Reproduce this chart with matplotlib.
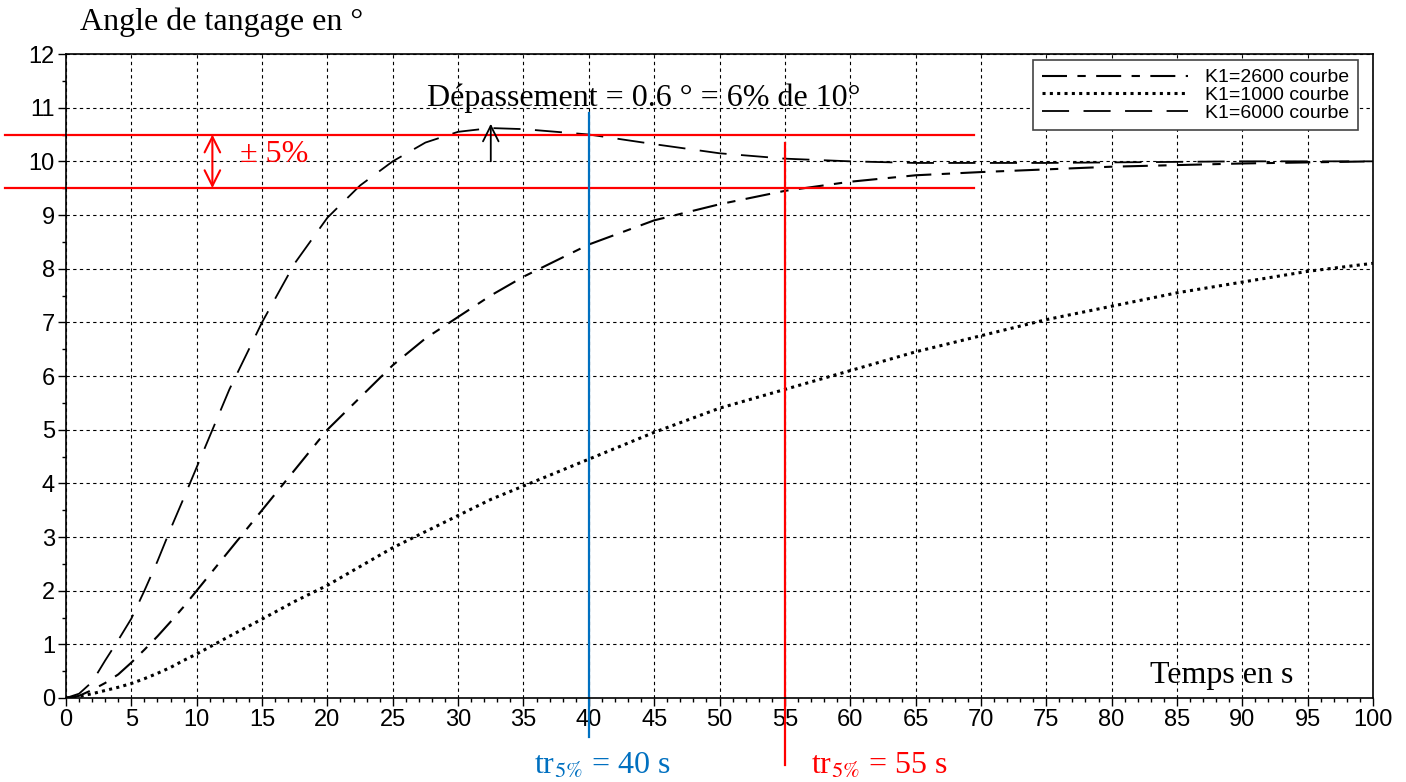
import numpy as np
import matplotlib
matplotlib.use("Agg")
import matplotlib.pyplot as plt
from matplotlib.ticker import MultipleLocator

plt.rcParams['font.family'] = ['Liberation Sans', 'DejaVu Sans']
plt.rcParams['mathtext.fontset'] = 'stix'

# temps (s)
t = [0, 1, 2, 3, 4, 5, 6, 7, 8, 9, 10, 12.5, 15, 17.5, 20, 22.5, 25, 27.5, 30, 32.5, 35,
     40, 45, 50, 55, 60, 65, 70, 75, 80, 85, 90, 95, 100]

# K1 = 2600 (tiret-point)
k2600 = [0, 0.04, 0.15, 0.28, 0.44, 0.66, 0.9, 1.15, 1.42, 1.7, 2.0, 2.75, 3.5, 4.25, 5.0,
         5.6, 6.2, 6.7, 7.1, 7.5, 7.85,
         8.45, 8.9, 9.2, 9.45, 9.62, 9.74, 9.8, 9.85, 9.9, 9.93, 9.96, 9.98, 10.0]
# K1 = 1000 (pointillé)
k1000 = [0, 0.03, 0.08, 0.14, 0.2, 0.27, 0.36, 0.46, 0.57, 0.7, 0.82, 1.15, 1.47, 1.8, 2.1,
         2.45, 2.8, 3.1, 3.4, 3.7, 3.95,
         4.45, 4.95, 5.4, 5.75, 6.1, 6.45, 6.75, 7.05, 7.3, 7.55, 7.75, 7.95, 8.1]
# K1 = 6000 (tirets)
k6000 = [0, 0.08, 0.3, 0.7, 1.08, 1.48, 2.0, 2.55, 3.15, 3.72, 4.3, 5.75, 7.0, 8.1, 8.95,
         9.55, 10.0, 10.35, 10.55, 10.62, 10.6,
         10.5, 10.32, 10.15, 10.05, 10.0, 9.97, 9.97, 9.97, 9.98, 9.99, 10.0, 10.0, 10.0]

fig = plt.figure(figsize=(14.06, 7.82), dpi=100)
ax = fig.add_axes([66/1406, 1-698/782, (1373-66)/1406, (698-54)/782])

ax.plot(t, k2600, color='black', lw=1.5, ls=(0, (12, 5, 4, 5)), label='K1=2600 courbe')
ax.plot(t, k1000, color='black', lw=2.2, ls=(0, (1, 1.4)), label='K1=1000 courbe')
ax.plot(t, k6000, color='black', lw=1.3, ls=(0, (15, 8)), label='K1=6000 courbe')

ax.set_xlim(0, 100)
ax.set_ylim(0, 12)
ax.xaxis.set_major_locator(MultipleLocator(5))
ax.xaxis.set_minor_locator(MultipleLocator(1))
ax.yaxis.set_major_locator(MultipleLocator(1))
ax.yaxis.set_minor_locator(MultipleLocator(0.5))
ax.tick_params(which='major', length=6, width=1, labelsize=17, pad=2)
ax.tick_params(which='minor', length=3, width=1)
ax.grid(True, which='major', color='black', ls=(0, (3, 3)), lw=0.8)
for s in ax.spines.values():
    s.set_linewidth(1.2)

leg = ax.legend(loc='upper right', bbox_to_anchor=(0.9885, 0.9907), borderaxespad=0,
                fontsize=14, handlelength=7.5, handletextpad=0.9, labelspacing=0.0,
                borderpad=0.45, fancybox=False, framealpha=1, edgecolor='#444444')
leg.get_frame().set_linewidth(1.2)

serif = ['Liberation Serif', 'DejaVu Serif']

# bande de +/- 5%
ax.plot([-4.7, 69.5], [10.5, 10.5], color='red', lw=1.6, clip_on=False)
ax.plot([-4.7, 69.5], [9.5, 9.5], color='red', lw=1.6, clip_on=False)
ax.annotate('', xy=(11.2, 9.5), xytext=(11.2, 10.5),
            arrowprops=dict(arrowstyle='<->', color='red', lw=1.5, mutation_scale=28,
                            shrinkA=0, shrinkB=0))
ax.text(13.3, 10.12, '± 5%', color='red', fontsize=23, family=serif, va='center')

# dépassement
ax.annotate('', xy=(32.5, 10.7), xytext=(32.5, 10.0),
            arrowprops=dict(arrowstyle='->', color='black', lw=1.3, mutation_scale=28,
                            shrinkA=0, shrinkB=0))
ax.text(44.2, 11.18, 'Dépassement = 0.6 ° = 6% de 10°', fontsize=23, family=serif,
        ha='center', va='center')

# temps de réponse
ax.plot([40, 40], [-0.72, 10.9], color='#0070C0', lw=1.6, clip_on=False)
ax.plot([55, 55], [-1.25, 10.35], color='red', lw=1.6, clip_on=False)
fig.text(602/1406, 1-766/782, r'tr$_{\mathrm{5\%}}$ = 40 s', color='#0070C0', fontsize=23,
         family=serif, ha='center', va='center')
fig.text(879/1406, 1-766/782, r'tr$_{\mathrm{5\%}}$ = 55 s', color='red', fontsize=23,
         family=serif, ha='center', va='center')

fig.text(80/1406, 1-22/782, 'Angle de tangage en °', fontsize=23, family=serif,
         ha='left', va='center')
ax.text(88.4, 0.42, 'Temps en s', fontsize=23, family=serif, ha='center', va='center')

fig.savefig('out.png', dpi=100)
